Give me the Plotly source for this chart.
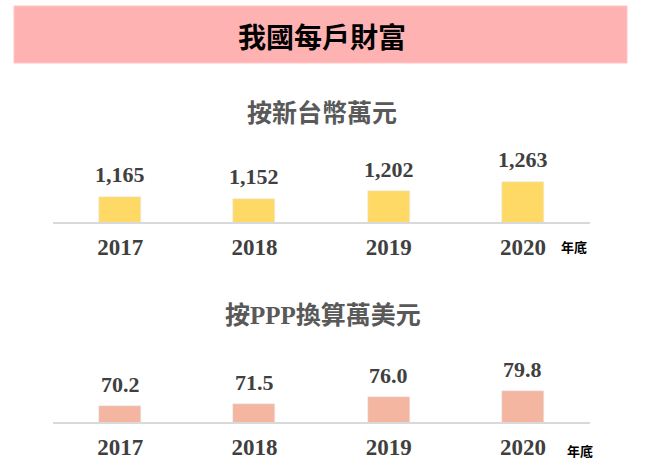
import plotly.graph_objects as go

years = ["2017", "2018", "2019", "2020"]
twd_values = [1165, 1152, 1202, 1263]
twd_labels = ["1,165", "1,152", "1,202", "1,263"]
ppp_values = [70.2, 71.5, 76.0, 79.8]
ppp_labels = ["70.2", "71.5", "76.0", "79.8"]

title_text = "我國每戶財富"
sub1_text = "按新台幣萬元"
sub2_text = "按<span style=\"font-family:'Liberation Serif'\">PPP</span>換算萬美元"
unit_text = "年底"

W, H = 666, 468
SERIF = "Liberation Serif, Times New Roman, serif"
CJK = "Noto Sans CJK TC, Noto Sans CJK SC, sans-serif"
GRAY = "#404040"

def py(px):
    return 1 - px / H

def px_(x):
    return x / W

# axis geometry (pixels)
x_left, x_right = 53, 590
top_base, top_top = 222, 140
bot_base, bot_top = 422, 350
top_scale = 0.153   # px per unit
bot_scale = 1.56

fig = go.Figure()
fig.add_trace(go.Bar(x=years, y=twd_values, marker_color="#FFD966", width=0.313,
                     xaxis="x", yaxis="y", showlegend=False, hoverinfo="skip"))
fig.add_trace(go.Bar(x=years, y=ppp_values, marker_color="#F4B6A0", width=0.313,
                     xaxis="x2", yaxis="y2", showlegend=False, hoverinfo="skip"))

annotations = []
for i, (v, lab) in enumerate(zip(twd_values, twd_labels)):
    annotations.append(dict(x=i, y=v, xref="x", yref="y", text="<b>%s</b>" % lab,
                            showarrow=False, yanchor="middle", yshift=22,
                            font=dict(family=SERIF, size=22, color=GRAY)))
for i, (v, lab) in enumerate(zip(ppp_values, ppp_labels)):
    annotations.append(dict(x=i, y=v, xref="x2", yref="y2", text="<b>%s</b>" % lab,
                            showarrow=False, yanchor="middle", yshift=22,
                            font=dict(family=SERIF, size=22, color=GRAY)))

annotations += [
    dict(x=px_(322), y=py(36), xref="paper", yref="paper", text="<b>%s</b>" % title_text,
         showarrow=False, xanchor="center", yanchor="middle",
         font=dict(family=CJK, size=28, color="#000000")),
    dict(x=px_(322), y=py(111), xref="paper", yref="paper", text="<b>%s</b>" % sub1_text,
         showarrow=False, xanchor="center", yanchor="middle",
         font=dict(family=CJK, size=25, color="#595959")),
    dict(x=px_(323), y=py(313), xref="paper", yref="paper", text="<b>%s</b>" % sub2_text,
         showarrow=False, xanchor="center", yanchor="middle",
         font=dict(family=CJK, size=25, color="#595959")),
    dict(x=px_(574), y=py(246), xref="paper", yref="paper", text="<b>%s</b>" % unit_text,
         showarrow=False, xanchor="center", yanchor="middle",
         font=dict(family=CJK, size=13, color="#000000")),
    dict(x=px_(580), y=py(450), xref="paper", yref="paper", text="<b>%s</b>" % unit_text,
         showarrow=False, xanchor="center", yanchor="middle",
         font=dict(family=CJK, size=13, color="#000000")),
]

xaxis_common = dict(type="category", range=[-0.5, 3.5], showgrid=False, zeroline=False,
                    showline=True, linecolor="#D9D9D9", linewidth=1.5,
                    ticks="outside", ticklen=4, tickcolor="rgba(0,0,0,0)",
                    tickfont=dict(family=SERIF, size=23, color=GRAY),
                    tickprefix="<b>", ticksuffix="</b>", fixedrange=True)

fig.update_layout(
    width=W, height=H, autosize=False,
    margin=dict(l=0, r=0, t=0, b=0),
    paper_bgcolor="white", plot_bgcolor="white",
    bargap=0,
    xaxis=dict(domain=[px_(x_left), px_(x_right)], anchor="y", **xaxis_common),
    yaxis=dict(domain=[py(top_base), py(top_top)], anchor="x",
               range=[1000, 1000 + (top_base - top_top) / top_scale],
               visible=False, fixedrange=True),
    xaxis2=dict(domain=[px_(x_left), px_(x_right)], anchor="y2", **xaxis_common),
    yaxis2=dict(domain=[py(bot_base), py(bot_top)], anchor="x2",
                range=[60, 60 + (bot_base - bot_top) / bot_scale],
                visible=False, fixedrange=True),
    shapes=[dict(type="rect", xref="paper", yref="paper",
                 x0=px_(14), x1=px_(627), y0=py(63), y1=py(6),
                 fillcolor="#FFB2B2", line=dict(color="#FFC4C4", width=1), layer="below")],
    annotations=annotations,
)

fig.write_html("out.html", config={"displayModeBar": False},
               post_script="document.body.style.margin='0';document.body.style.overflow='hidden';")
